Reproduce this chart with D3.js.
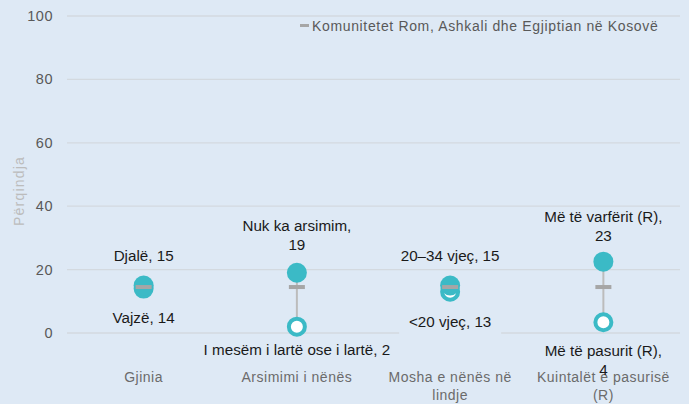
<!DOCTYPE html>
<html>
<head>
<meta charset="utf-8">
<script src="https://cdn.jsdelivr.net/npm/d3@7"></script>
<style>
body { margin: 0; background: #dee9f5; }
svg { display: block; font-family: "Liberation Sans", Arial, sans-serif; }
</style>
</head>
<body>
<svg id="chart" width="689" height="404"></svg>
<script>
// categories and values (percent)
const categories = ["Gjinia", "Arsimimi i nënës", "Mosha e nënës në lindje", "Kuintalët e pasurisë (R)"];
const catLines = [["Gjinia"], ["Arsimimi i nënës"], ["Mosha e nënës në", "lindje"], ["Kuintalët e pasurisë", "(R)"]];
const highValues = [15, 19, 15, 22.5];
const lowValues = [14, 2, 13, 3.4];
const national = [14.5, 14.5, 14.5, 14.5];
const highLabels = [["Djalë, 15"], ["Nuk ka arsimim,", "19"], ["20–34 vjeç, 15"], ["Më të varfërit (R),", "23"]];
const lowLabels = [["Vajzë, 14"], ["I mesëm i lartë ose i lartë, 2"], ["<20 vjeç, 13"], ["Më të pasurit (R),", "4"]];
const yTicks = [0, 20, 40, 60, 80, 100];
const legendLabel = "Komunitetet Rom, Ashkali dhe Egjiptian në Kosovë";

const bg = "#dee9f5";
const teal = "#3bbac6";
const svg = d3.select("#chart");
const margin = {left: 67, right: 9, top: 16, bottom: 71};
const W = 689, H = 404;

const x = d3.scaleBand().domain(categories).range([margin.left, W - margin.right]);
const y = d3.scaleLinear().domain([0, 100]).range([H - margin.bottom, margin.top]);

svg.append("rect").attr("width", W).attr("height", H).attr("fill", bg);

// gridlines
svg.append("g").selectAll("line").data(yTicks).join("line")
  .attr("x1", margin.left).attr("x2", W - margin.right)
  .attr("y1", d => y(d)).attr("y2", d => y(d))
  .attr("stroke", "#d3d9df").attr("stroke-width", 1.3);

// y tick labels
svg.append("g").selectAll("text").data(yTicks).join("text")
  .attr("x", 53).attr("y", d => y(d)).attr("dy", "0.35em")
  .attr("text-anchor", "end").attr("fill", "#595959").attr("font-size", 14.5)
  .attr("letter-spacing", 0.5)
  .text(d => d);

// y title
svg.append("text").attr("transform", "translate(24,191) rotate(-90)")
  .attr("text-anchor", "middle").attr("fill", "#bcbcbc").attr("font-size", 14)
  .attr("letter-spacing", 1.2)
  .text("Përqindja");

// category labels
const cx = (i) => x(categories[i]) + x.bandwidth() / 2;
categories.forEach((c, i) => {
  const t = svg.append("text").attr("text-anchor", "middle").attr("fill", "#6b6b6b")
    .attr("font-size", 14).attr("letter-spacing", 0.5);
  catLines[i].forEach((l, j) => t.append("tspan").attr("x", cx(i)).attr("y", 382 + j * 18).text(l));
});

// connectors
svg.append("g").selectAll("line").data(categories).join("line")
  .attr("x1", (d, i) => cx(i)).attr("x2", (d, i) => cx(i))
  .attr("y1", (d, i) => y(highValues[i])).attr("y2", (d, i) => y(lowValues[i]))
  .attr("stroke", "#bcbcbc").attr("stroke-width", 2);

// low (hollow) markers
svg.append("g").selectAll("circle").data(lowValues).join("circle")
  .attr("cx", (d, i) => cx(i)).attr("cy", d => y(d)).attr("r", 8)
  .attr("fill", "#ffffff").attr("stroke", teal).attr("stroke-width", 4);

// high (filled) markers
svg.append("g").selectAll("circle").data(highValues).join("circle")
  .attr("cx", (d, i) => cx(i)).attr("cy", d => y(d)).attr("r", 10)
  .attr("fill", teal);

// national dash
svg.append("g").selectAll("rect").data(national).join("rect")
  .attr("x", (d, i) => cx(i) - 8).attr("y", d => y(d) - 2)
  .attr("width", 16).attr("height", 4).attr("fill", "#a6a6a6");

// data labels
function label(lines, xc, yFirst, withBg) {
  if (withBg) {
    svg.append("rect").attr("x", xc - 51).attr("y", yFirst - 14).attr("width", 102).attr("height", 27).attr("fill", bg);
  }
  const t = svg.append("text").attr("text-anchor", "middle").attr("fill", "#1a1a1a").attr("font-size", 15.2);
  lines.forEach((l, j) => t.append("tspan").attr("x", xc).attr("y", yFirst + j * 19).text(l));
}
label(highLabels[0], cx(0), 261, false);
label(lowLabels[0], cx(0), 323, false);
label(highLabels[1], cx(1), 231, false);
label(lowLabels[1], cx(1), 355, false);
label(highLabels[2], cx(2), 261, false);
label(lowLabels[2], cx(2), 327, true);
label(highLabels[3], cx(3), 222, false);
label(lowLabels[3], cx(3), 356, false);

// legend
svg.append("rect").attr("x", 300).attr("y", 24).attr("width", 9).attr("height", 3).attr("fill", "#a6a6a6");
svg.append("text").attr("x", 312).attr("y", 26).attr("dy", "0.35em").attr("fill", "#595959").attr("font-size", 14)
  .attr("letter-spacing", 0.65)
  .text(legendLabel);
</script>
</body>
</html>
